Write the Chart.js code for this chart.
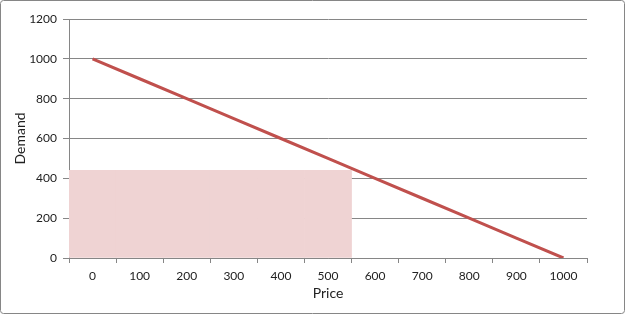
<!DOCTYPE html>
<html><head><meta charset="utf-8">
<script src="https://cdn.jsdelivr.net/npm/chart.js@4"></script>
<style>html,body{margin:0;padding:0;background:#fff}#wrap{width:625px;height:314px}</style>
</head><body><div id="wrap"><canvas id="c" width="625" height="314"></canvas></div>
<script>
const categories = ['0','100','200','300','400','500','600','700','800','900','1000'];
const demandLine = [1000,900,800,700,600,500,400,300,200,100,0];
const shadedArea = [440,440,440,440,440,440,null,null,null,null,null];
const yTicks = [0,200,400,600,800,1000,1200];

const borderPlugin = {
  id:'outerBorder',
  beforeDraw(chart){
    const ctx = chart.ctx;
    ctx.save();
    ctx.fillStyle='#fff';
    ctx.fillRect(0,0,chart.width,chart.height);
    ctx.strokeStyle='#868686';
    ctx.lineWidth=1;
    ctx.beginPath();
    ctx.roundRect(0.5,0.5,chart.width-1,chart.height-1,3);
    ctx.stroke();
    ctx.restore();
  }
};
const FONT = "Lato, 'Open Sans', sans-serif";
new Chart(document.getElementById('c'), {
  type:'bar',
  data:{
    labels:categories,
    datasets:[
      {type:'line', data:demandLine, borderColor:'#C0504D', borderWidth:3, pointRadius:0, fill:false, order:0, tension:0},
      {type:'bar', data:shadedArea, backgroundColor:'#EFD3D3', categoryPercentage:1, barPercentage:1, order:1}
    ]
  },
  options:{
    responsive:false, animation:false,
    layout:{padding:{left:0,right:38,top:19,bottom:0}},
    plugins:{legend:{display:false}, tooltip:{enabled:false}},
    scales:{
      x:{
        offset:true,
        grid:{display:true, offset:true, drawOnChartArea:false, drawTicks:true, tickLength:5, color:'#868686'},
        border:{display:true, color:'#868686'},
        ticks:{color:'#222', font:{family:FONT,size:12}, padding:6, maxRotation:0, autoSkip:false},
        title:{display:true, text:'Price', color:'#222', font:{family:FONT,size:14}, padding:{top:0,bottom:12}},
        afterFit(s){ s.height = 56; }
      },
      y:{
        min:0, max:1200,
        afterBuildTicks(s){ s.ticks = yTicks.map(v=>({value:v})); },
        grid:{color:'#868686', tickLength:6},
        border:{display:true, color:'#868686'},
        ticks:{color:'#222', font:{family:FONT,size:12}, padding:6, callback:(v)=>String(v)},
        title:{display:true, text:'Demand', color:'#222', font:{family:FONT,size:14}, padding:{top:12,bottom:0}},
        afterFit(s){ s.width = 69; }
      }
    }
  },
  plugins:[borderPlugin]
});
</script></body></html>
